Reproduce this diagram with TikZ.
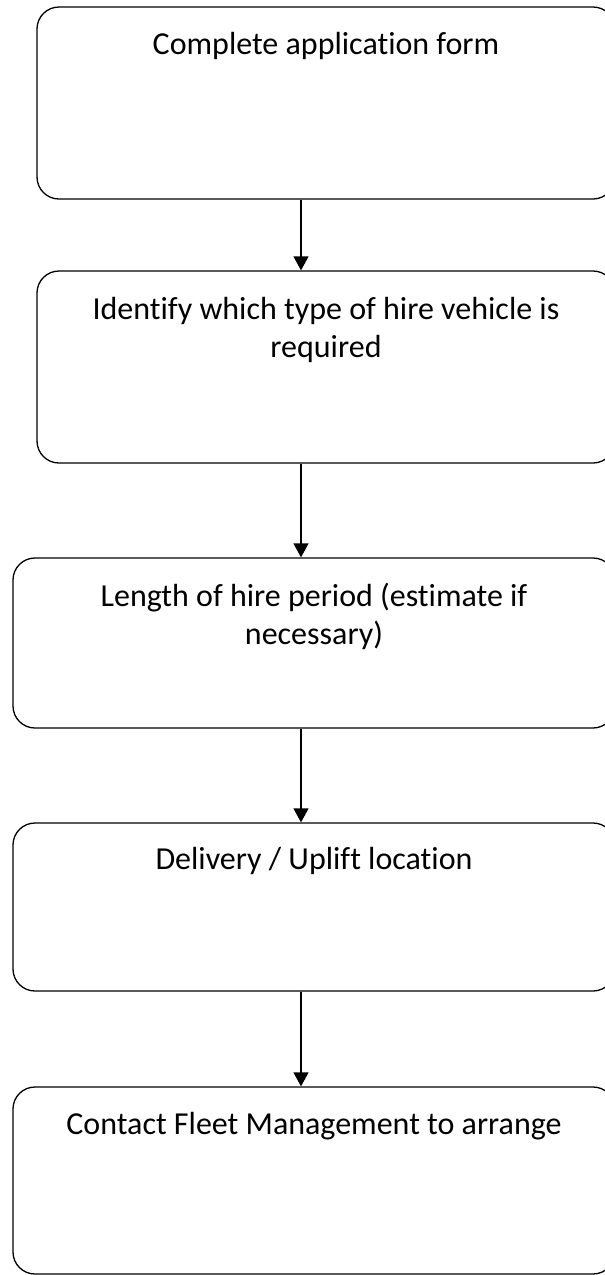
\documentclass[tikz,border=0pt]{standalone}
\usepackage{fontspec}
\setmainfont{Carlito}[Ligatures=NoCommon]
\usetikzlibrary{arrows.meta}

\begin{document}
\begin{tikzpicture}[x=1pt,y=-1pt,
  stepbox/.style={draw=black,line width=1.3pt,rounded corners=22pt,inner sep=0pt},
  steptext/.style={anchor=base,align=center,inner sep=0pt,font=\fontsize{32}{38}\selectfont},
  flow/.style={draw=black,line width=1.3pt,-{Triangle[length=14pt,width=15pt]}}]
\path [use as bounding box,clip] (0,0) rectangle (605,1275);
\coordinate (spine) at (301,0);
% two-line labels sit one line lower, since base is the last line
\node [stepbox,minimum width=578pt,minimum height=192pt] (form) at (326,103) {};
\node [steptext] at ([yshift=-48pt]form.north) {Complete application form};
\node [stepbox,minimum width=578pt,minimum height=192pt] (vehicle) at (326,367) {};
\node [steptext] at ([yshift=-87pt]vehicle.north) {Identify which type of hire vehicle is\\required};
\node [stepbox,minimum width=602pt,minimum height=170pt] (period) at (314,643) {};
\node [steptext] at ([yshift=-87pt]period.north) {Length of hire period (estimate if\\necessary)};
\node [stepbox,minimum width=602pt,minimum height=168pt] (location) at (314,907) {};
\node [steptext] at ([yshift=-47pt]location.north) {Delivery / Uplift location};
\node [stepbox,minimum width=602pt,minimum height=187pt] (contact) at (314,1180.5) {};
\node [steptext] at ([yshift=-48pt]contact.north) {Contact Fleet Management to arrange};
\draw [flow] (form.south -| spine) -- (vehicle.north -| spine);
\draw [flow] (vehicle.south -| spine) -- (period.north -| spine);
\draw [flow] (period.south -| spine) -- (location.north -| spine);
\draw [flow] (location.south -| spine) -- (contact.north -| spine);
\end{tikzpicture}
\end{document}
